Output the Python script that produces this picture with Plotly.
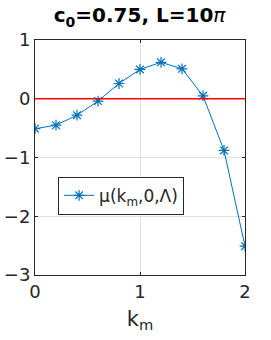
import plotly.graph_objects as go

k_m = [0.0, 0.2, 0.4, 0.6, 0.8, 1.0, 1.2, 1.4, 1.6, 1.8, 2.0]
mu = [-0.51, -0.45, -0.28, -0.04, 0.26, 0.50, 0.62, 0.51, 0.05, -0.88, -2.51]
x_ticks = [0, 1, 2]
y_ticks = [-3, -2, -1, 0, 1]

blue = "#0072BD"
font = "DejaVu Sans"

fig = go.Figure()
fig.add_trace(go.Scatter(
    x=k_m, y=mu, mode="lines+markers",
    line=dict(color=blue, width=1),
    marker=dict(symbol="asterisk-open", size=9, color=blue, line=dict(color=blue, width=1.2)),
    name="μ(k<sub>m</sub>,0,Λ)",
))
fig.add_shape(type="line", xref="paper", yref="y", x0=0, x1=1, y0=0, y1=0,
              line=dict(color="red", width=1.5))

fig.update_layout(
    width=271, height=340,
    margin=dict(l=35, r=26, t=40, b=65),
    paper_bgcolor="white", plot_bgcolor="white",
    font=dict(family=font, color="#262626", size=17),
    title=dict(text="<b>c<sub>0</sub>=0.75, L=10</b><i>π</i>", x=0.515, xanchor="center",
               y=0.955, yanchor="middle", font=dict(family=font, size=20, color="black"),
               automargin=False),
    showlegend=True,
    legend=dict(x=0.11, y=0.418, xanchor="left", yanchor="top",
                bordercolor="#262626", borderwidth=1, bgcolor="white",
                font=dict(family=font, size=17, color="#262626")),
)
fig.update_xaxes(range=[0, 2], tickvals=x_ticks, showgrid=True, gridcolor="#DFDFDF",
                 showline=True, linecolor="#262626", linewidth=1, mirror="ticks",
                 ticks="inside", ticklen=3, tickcolor="#262626", zeroline=False,
                 automargin=False,
                 title=dict(text="k<sub>m</sub>", font=dict(size=21, family=font, color="#262626"), standoff=10),
                 tickfont=dict(size=18))
fig.update_yaxes(range=[-3, 1], tickvals=y_ticks, showgrid=True, gridcolor="#DFDFDF",
                 showline=True, linecolor="#262626", linewidth=1, mirror="ticks",
                 ticks="inside", ticklen=3, tickcolor="#262626", zeroline=False,
                 automargin=False,
                 tickfont=dict(size=18))

fig.write_html("out.html", config={"displayModeBar": False},
               post_script="document.body.style.margin='0';document.body.style.padding='0';")
